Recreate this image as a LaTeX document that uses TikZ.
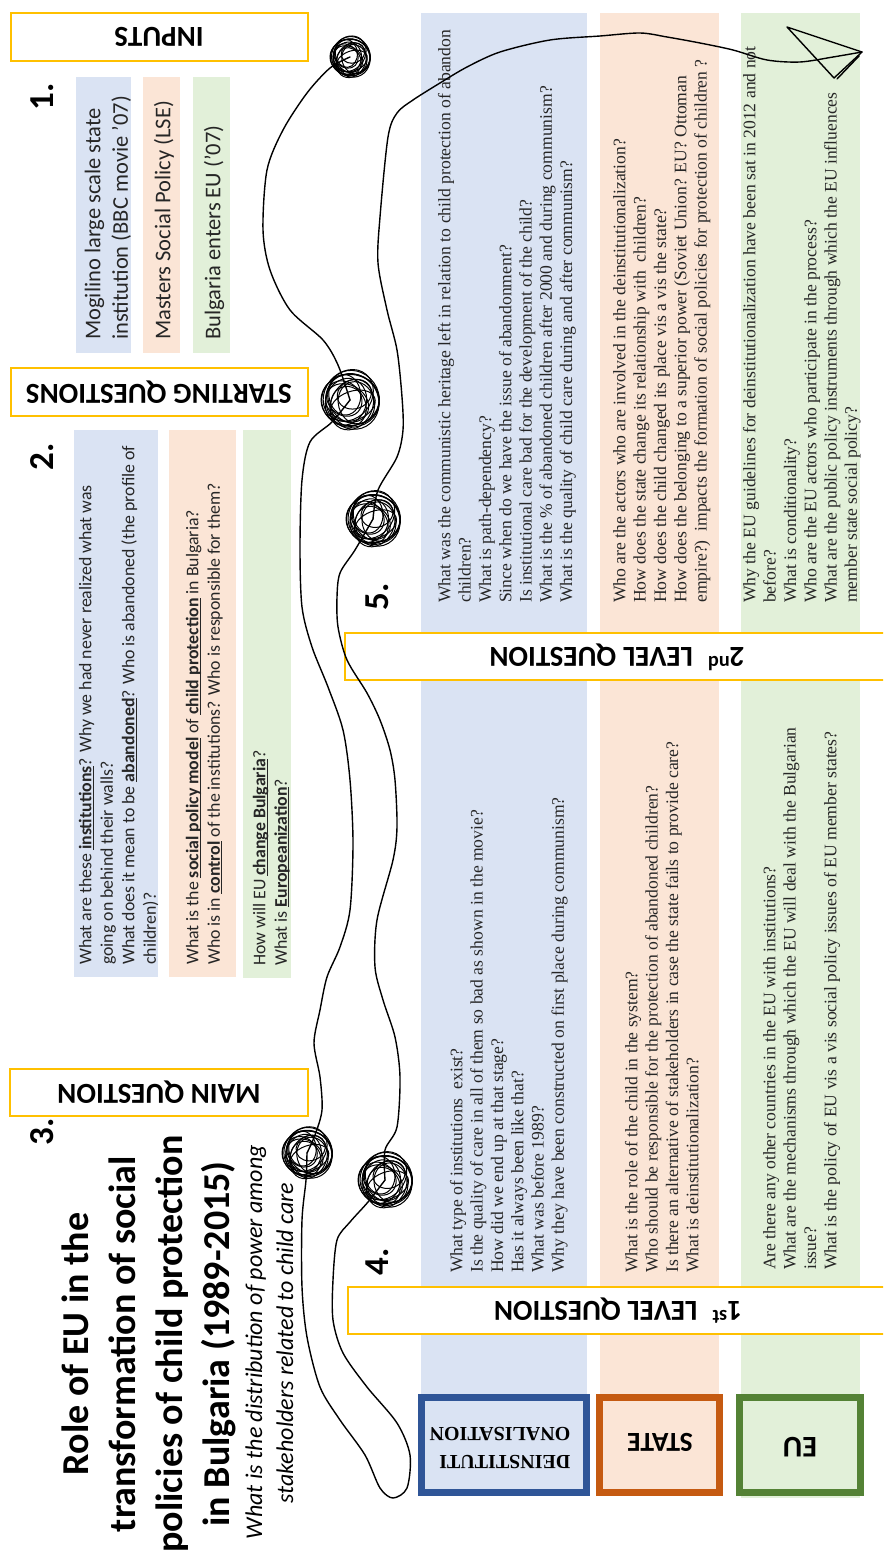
\documentclass[tikz,border=0pt]{standalone}
\usepackage{fontspec}
\setmainfont{Liberation Serif}
\newfontfamily\calib{Carlito}
\newfontfamily\serf{Liberation Serif}
\definecolor{ylw}{HTML}{FFC000}
\definecolor{lblue}{HTML}{DAE3F3}
\definecolor{lpeach}{HTML}{FBE5D6}
\definecolor{lgreen}{HTML}{E2F0D9}
\definecolor{dblue}{HTML}{2F5597}
\definecolor{dorange}{HTML}{C55A11}
\definecolor{dgreen}{HTML}{548235}
\definecolor{txt}{HTML}{262626}
\newsavebox\uwbox
\newcommand\uw[1]{\sbox\uwbox{\textbf{#1}}\rlap{\rule[-2.6pt]{\wd\uwbox}{0.9pt}}\usebox\uwbox}
\tikzset{
  ybox/.style={draw=ylw, line width=1.6pt, fill=white},
  hdr/.style={font={\calib\bfseries\fontsize{29}{34}\selectfont}, rotate=180, inner sep=0pt},
  numb/.style={font={\calib\bfseries\fontsize{35}{40}\selectfont}, rotate=90, anchor=base, inner sep=0pt},
  qtxt/.style={font={\serf\fontsize{17.6}{20.3}\selectfont}, rotate=90, anchor=north west, align=left, inner sep=0pt, text=txt},
  stxt/.style={font={\calib\fontsize{17.8}{21.5}\selectfont}, rotate=90, anchor=north west, align=left, inner sep=0pt, text=txt},
  itxt/.style={font={\calib\fontsize{22.5}{27.4}\selectfont}, rotate=90, anchor=north west, align=left, inner sep=0pt, text=txt},
  ttl/.style={font={\calib\bfseries\fontsize{38}{47}\selectfont}, rotate=90, anchor=base, inner sep=0pt},
  subt/.style={font={\calib\itshape\fontsize{24}{30}\selectfont}, rotate=90, anchor=base, inner sep=0pt},
  hand/.style={line width=1.4pt, line cap=round, line join=round},
  scribble/.style={line width=1pt},
  bbox/.style={line width=7pt},
}
\newcommand{\scrib}[3]{%
  \foreach \dx/\dy/\rx/\ry/\an in {0/0/1/0.88/0, 0.12/-0.1/0.86/0.95/35, -0.14/0.06/0.82/0.7/70, 0.06/0.16/0.72/0.9/-25, -0.06/-0.16/0.95/0.8/50, 0.22/0.1/0.62/0.74/15, -0.2/-0.05/0.66/0.56/-45, 0.02/0.02/0.92/1.0/85, 0.1/0.2/0.5/0.8/110, -0.1/0.1/0.78/0.62/150, 0.15/-0.2/0.6/0.5/20, -0.05/0.22/0.7/0.6/-70, 0.08/0.05/0.98/0.9/120, -0.18/-0.18/0.55/0.7/5}{%
    \draw[scribble, rotate around={\an:({#1+\dx*#3},{#2+\dy*#3})}] ({#1+\dx*#3},{#2+\dy*#3}) ellipse [x radius={\rx*#3*1pt}, y radius={\ry*#3*1pt}];%
  }%
}
\begin{document}
\begin{tikzpicture}[x=1pt,y=-1pt]
\useasboundingbox (0,0) rectangle (883,1557);
\clip (0,0) rectangle (883,1557);
\fill[white] (0,0) rectangle (883,1557);

% input strips
\fill[lblue] (76,77) rectangle (131,353);
\fill[lpeach] (143,77) rectangle (180,353);
\fill[lgreen] (193,77) rectangle (230,353);
% starting question strips
\fill[lblue] (74,430) rectangle (158,977);
\fill[lpeach] (169,430) rectangle (236,977);
\fill[lgreen] (243,430) rectangle (291,978);
% big strips
\fill[lblue] (421,13) rectangle (587,1394);
\fill[lpeach] (600,13) rectangle (719,1394);
\fill[lgreen] (741,13) rectangle (860,1498);

% yellow boxes
\draw[ybox] (11,13) rectangle (308,61);
\draw[ybox] (11,368) rectangle (308,416);
\draw[ybox] (10,1069) rectangle (308,1116);
\draw[ybox] (345,633) rectangle (895,680);
\draw[ybox] (348,1287) rectangle (895,1334);

\node[hdr] (inputs) at (159,37) {INPUTS};
\node[hdr] (startq) at (159,392) {STARTING QUESTIONS};
\node[hdr] (mainq) at (159,1092) {MAIN QUESTION};
\node[hdr] (lev2) at (617,657) {2\textsuperscript{nd}\hspace{0.5em}LEVEL QUESTION};
\node[hdr] (lev1) at (618,1311) {1\textsuperscript{st}\hspace{0.5em}LEVEL QUESTION};

% numbers
\node[numb] (n1) at (53,97) {1.};
\node[numb] (n2) at (53,457) {2.};
\node[numb] (n3) at (53,1132) {3.};
\node[numb] (n4) at (388,1262) {4.};
\node[numb] (n5) at (388,597) {5.};

% inputs
\node[itxt] (in1) at (81,340) {\strut Mogilino large scale state\\institution (BBC movie ’07)};
\node[itxt] (in2) at (151,340) {\strut Masters Social Policy (LSE)};
\node[itxt] (in3) at (201,340) {\strut Bulgaria enters EU (’07)};

% starting questions
\node[stxt] (sq1) at (76,965) {\strut What are these \uw{institutions}? Why we had never realized what was\\going on behind their walls?\\What does it mean to be \uw{abandoned}? Who is abandoned (the profile of\\children)?};
\node[stxt] (sq2) at (183,965) {\strut What is the \uw{social policy model} of \uw{child protection} in Bulgaria?\\Who is in \uw{control} of the institutions? Who is responsible for them?};
\node[stxt] (sq3) at (250,966) {\strut How will EU \uw{change Bulgaria}?\\What is \uw{Europeanization}?};

% title
\node[ttl] (t1) at (88,1344) {Role of EU in the};
\node[ttl] (t2) at (135,1344) {transformation of social};
\node[ttl] (t3) at (182,1344) {policies of child protection};
\node[ttl] (t4) at (229,1344) {in Bulgaria (1989-2015)};
\node[subt] (s1) at (262,1342) {What is the distribution of power among};
\node[subt] (s2) at (293,1343) {stakeholders related to child care};

% 2nd level questions
\node[qtxt] (q5a) at (436,603) {\strut What was the communistic heritage left in relation to child protection of abandon\\children?\\What is path-dependency?\\Since when do we have the issue of abandonment?\\Is institutional care bad for the development of the child?\\What is the \% of abandoned children after 2000 and during communism?\\What is the quality of child care during and after communism?};
\node[qtxt] (q5b) at (611,603) {\strut Who are the actors who are involved in the deinstitutionalization?\\How does the state change its relationship with\ \ children?\\How does the child changed its place vis a vis the state?\\How does the belonging to a superior power (Soviet Union? EU? Ottoman\\empire?)\ \ impacts the formation of social policies for protection of children ?};
\node[qtxt] (q5c) at (741,603) {\strut Why the EU guidelines for deinstitutionalization have been sat in 2012 and not\\before?\\What is conditionality?\\Who are the EU actors who participate in the process?\\What are the public policy instruments through which the EU influences\\member state social policy?};

% 1st level questions
\node[qtxt] (q4a) at (448,1273) {\strut What type of institutions\ \ exist?\\Is the quality of care in all of them so bad as shown in the movie?\\How did we end up at that stage?\\Has it always been like that?\\What was before 1989?\\Why they have been constructed on first place during communism?};
\node[qtxt] (q4b) at (623,1273) {\strut What is the role of the child in the system?\\Who should be responsible for the protection of abandoned children?\\Is there an alternative of stakeholders in case the state fails to provide care?\\What is deinstitutionalization?};
\node[qtxt] (q4c) at (761,1270) {\strut Are there any other countries in the EU with institutions?\\What are the mechanisms through which the EU will deal with the Bulgarian\\issue?\\What is the policy of EU vis a vis social policy issues of EU member states?};

% bottom boxes
\draw[bbox, draw=dblue, fill=lblue] (421.5,1397.5) rectangle (586.5,1492.5);
\draw[bbox, draw=dorange, fill=lpeach] (599.5,1397.5) rectangle (719.5,1492.5);
\draw[bbox, draw=dgreen, fill=lgreen] (739.5,1397.5) rectangle (860.5,1492.5);
\node[rotate=180, align=left, inner sep=0pt, font={\serf\bfseries\fontsize{20}{28}\selectfont}] (deinst) at (500,1448) {DEINSTITUTI\\ONALISATION};
\node[rotate=180, inner sep=0pt, font={\calib\bfseries\fontsize{27.5}{32}\selectfont}] (state) at (660,1442) {STATE};
\node[rotate=180, inner sep=0pt, font={\calib\bfseries\fontsize{30}{36}\selectfont}] (eu) at (800,1447) {EU};

% hand-drawn path
\draw[hand] plot[smooth, tension=0.5] coordinates {(350,57) (330,68) (307,93) (283,130) (267,170) (263,230) (270,270) (290,310) (323,340) (338,365) (350,400)};
\draw[hand] plot[smooth, tension=0.5] coordinates {(350,400) (332,422) (310,442) (302,480) (300,547) (302,607) (312,647) (328,687) (343,730) (350,780) (353,843) (350,910) (340,947) (327,977) (320,1010) (314,1043) (320,1077) (322,1110) (315,1135) (307,1153)};
\draw[hand] plot[smooth, tension=0.5] coordinates {(307,1153) (306,1180) (302,1220) (302,1287) (307,1337) (320,1387) (340,1420) (365,1455) (380,1488) (393,1498) (407,1488) (410,1455) (397,1423) (367,1387) (343,1353) (333,1320) (333,1280) (337,1240) (350,1222) (368,1202) (385,1180)};
\draw[hand] plot[smooth, tension=0.5] coordinates {(385,1180) (385,1150) (397,1127) (400,1077) (395,1037) (383,1000) (375,967) (377,920) (393,860) (397,827) (395,780) (390,750) (380,720) (367,693) (347,660) (338,627) (337,597) (340,573) (355,550) (373,519)};
\draw[hand] plot[smooth, tension=0.5] coordinates {(373,519) (378,490) (397,457) (403,430) (402,397) (397,350) (387,310) (378,263) (380,217) (388,137) (397,113) (413,100) (440,83) (467,67) (500,52) (550,40) (600,36) (640,33) (667,37) (700,43) (733,50) (767,60) (800,62) (833,57) (862,52)};
\draw[hand] (787,27) -- (862,52) -- (834,78) -- cycle;
\draw[hand] (859,56) -- (837,79);
\scrib{350}{57}{20}
\scrib{350}{400}{29}
\scrib{373}{519}{27}
\scrib{307}{1153}{25}
\scrib{385}{1180}{27}
\end{tikzpicture}
\end{document}
